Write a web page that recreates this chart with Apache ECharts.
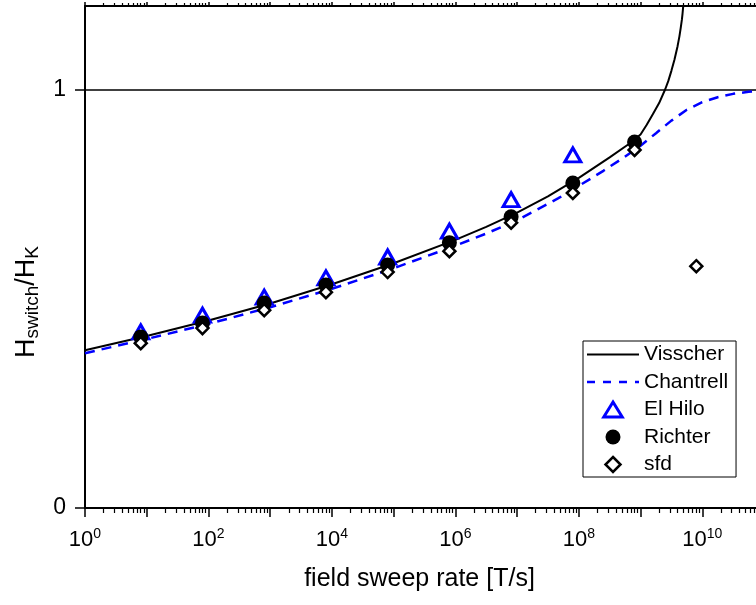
<!DOCTYPE html>
<html><head><meta charset="utf-8">
<script src="https://cdn.jsdelivr.net/npm/echarts@6/dist/echarts.min.js"></script>
<style>html,body{margin:0;padding:0;background:#fff;overflow:hidden;width:756px;height:605px}#c{width:764px;height:605px}</style>
</head><body><div id="c"></div>
<script>
// ---- data ----
const sweepRates = [8, 80, 800, 8e3, 8e4, 8e5, 8e6, 8e7, 8e8, 8e9];
const elHilo  = [0.421, 0.461, 0.504, 0.550, 0.600, 0.662, 0.737, 0.844];
const richter = [0.409, 0.442, 0.490, 0.533, 0.581, 0.634, 0.696, 0.777, 0.875];
const sfd     = [0.394, 0.430, 0.473, 0.516, 0.564, 0.614, 0.682, 0.753, 0.856, 0.578];

const visscherX = [1, 10, 100, 1e3, 1e4, 1e5, 1e6, 3.16e6, 1e7, 3.16e7, 1e8, 3.16e8, 6.3e8, 1e9, 1.26e9, 1.58e9, 2e9, 2.51e9, 2.82e9, 3.16e9, 3.55e9, 3.98e9, 4.27e9, 4.47e9, 4.68e9, 4.79e9, 4.9e9, 5.01e9, 5.13e9];
const visscherY = [0.377, 0.411, 0.448, 0.489, 0.535, 0.585, 0.641, 0.672, 0.706, 0.745, 0.789, 0.838, 0.869, 0.893, 0.916, 0.941, 0.968, 1.001, 1.021, 1.045, 1.072, 1.104, 1.128, 1.147, 1.168, 1.182, 1.198, 1.22, 1.25];
const chantrellX = [1, 10, 100, 1e3, 1e4, 1e5, 1e6, 3.16e6, 1e7, 4.6e7, 1e8, 2.5e8, 5e8, 1e9, 1.78e9, 3.16e9, 5.62e9, 1e10, 1.78e10, 3.16e10, 5.62e10, 1e11];
const chantrellY = [0.370, 0.404, 0.440, 0.480, 0.524, 0.573, 0.627, 0.656, 0.688, 0.740, 0.770, 0.806, 0.835, 0.866, 0.896, 0.926, 0.952, 0.970, 0.982, 0.990, 0.995, 0.998];

const xDecades = [1, 10, 100, 1e3, 1e4, 1e5, 1e6, 1e7, 1e8, 1e9, 1e10, 1e11];
const xLabelExps = [0, 2, 4, 6, 8, 10];
const minorMult = [2, 3, 4, 5, 6, 7, 8, 9];
const yTicks = [0, 1];

// ---- build ----
const F = '"Liberation Sans", Arial, sans-serif';
const minorTicks = [];
xDecades.slice(0, -1).forEach(d => minorMult.forEach(m => minorTicks.push(d * m)));
const zip = (xs, ys) => ys.map((y, i) => [xs[i], y]);

const baseX = {
  type: 'log', logBase: 10, min: 1, max: 1e11, gridIndex: 0,
  splitLine: { show: false }
};
const chart = echarts.init(document.getElementById('c'));
chart.setOption({
  animation: false,
  backgroundColor: '#fff',
  grid: { left: 85, top: 6, right: 0, bottom: 97, containLabel: false },
  xAxis: [
    Object.assign({}, baseX, {
      position: 'bottom',
      axisLine: { show: true, lineStyle: { color: '#000', width: 2 } },
      axisTick: { show: true, length: 9, lineStyle: { color: '#000', width: 1.5 }, customValues: xDecades },
      axisLabel: {
        show: true, margin: 19, color: '#000',
        customValues: xLabelExps.map(e => xDecades[e]),
        formatter: v => {
          const e = Math.round(Math.log10(v));
          return xLabelExps.indexOf(e) >= 0 ? '{b|10}{s|' + e + '}' : '';
        },
        rich: {
          b: { fontSize: 22, fontFamily: F, color: '#000' },
          s: { fontSize: 14, fontFamily: F, color: '#000', padding: [0, 0, 12, 0] }
        }
      },
      name: 'field sweep rate [T/s]', nameLocation: 'middle', nameGap: 59,
      nameTextStyle: { fontSize: 25, fontFamily: F, color: '#000', padding: [0, 10, 0, 0] }
    }),
    Object.assign({}, baseX, {
      position: 'bottom',
      axisLine: { show: false },
      axisTick: { show: true, length: 5, lineStyle: { color: '#000', width: 1.2 }, customValues: minorTicks },
      axisLabel: { show: false }
    }),
    Object.assign({}, baseX, {
      position: 'top',
      axisLine: { show: true, lineStyle: { color: '#000', width: 2 } },
      axisTick: { show: true, length: 4, lineStyle: { color: '#000', width: 1.5 }, customValues: xDecades },
      axisLabel: { show: false }
    }),
    Object.assign({}, baseX, {
      position: 'top',
      axisLine: { show: false },
      axisTick: { show: true, length: 3, lineStyle: { color: '#000', width: 1.2 }, customValues: minorTicks },
      axisLabel: { show: false }
    })
  ],
  yAxis: {
    type: 'value', min: 0, max: 1.2, interval: 1,
    axisLine: { show: true, lineStyle: { color: '#000', width: 2 } },
    axisTick: { show: true, length: 10, lineStyle: { color: '#000', width: 1.5 }, customValues: yTicks },
    axisLabel: {
      show: true, margin: 19, fontSize: 23, fontFamily: F, color: '#000',
      customValues: yTicks,
      formatter: v => (yTicks.indexOf(v) >= 0 ? String(v) : '')
    },
    splitLine: { show: true, lineStyle: { color: '#000', width: 1.5 } }
  },
  legend: {
    orient: 'vertical', left: 583, top: 341,
    padding: [3, 8, 2, 4], itemGap: 6.5, itemWidth: 52, itemHeight: 15,
    borderColor: '#000', borderWidth: 1, backgroundColor: '#fff',
    textStyle: { fontSize: 21, fontFamily: F, color: '#000' },
    data: [
      { name: 'Visscher', icon: 'path://M0,0h52v2.2h-52z', itemStyle: { color: '#000', borderWidth: 0 } },
      { name: 'Chantrell', icon: 'path://M0,0h8v2.5h-8zM16,0h8v2.5h-8zM32,0h8v2.5h-8zM48,0h4v2.5h-4z', itemStyle: { color: '#0000ff', borderWidth: 0 } },
      { name: 'El Hilo', icon: 'path://M8,0L16,13L0,13Z', itemStyle: { color: '#fff', borderColor: '#0000ff', borderWidth: 3 } },
      { name: 'Richter', icon: 'circle', itemStyle: { color: '#000', borderWidth: 0 } },
      { name: 'sfd', icon: 'path://M6,0L12,6L6,12L0,6Z', itemStyle: { color: '#fff', borderColor: '#000', borderWidth: 2.5 } }
    ]
  },
  graphic: [{
    type: 'text', x: 27, y: 302, rotation: Math.PI / 2,
    style: {
      text: '{a|H}{b|switch}{a|/H}{b|K}',
      align: 'center', verticalAlign: 'middle',
      rich: {
        a: { fontSize: 27, fontFamily: F, fill: '#000', color: '#000' },
        b: { fontSize: 19, fontFamily: F, fill: '#000', color: '#000', padding: [12, 0, 0, 0] }
      }
    }
  }],
  series: [
    {
      name: 'Visscher', type: 'line', data: zip(visscherX, visscherY),
      symbol: 'none', smooth: false, clip: true,
      lineStyle: { color: '#000', width: 2 }, itemStyle: { color: '#000' }, z: 3
    },
    {
      name: 'Chantrell', type: 'line', data: zip(chantrellX, chantrellY),
      symbol: 'none', smooth: false, clip: true,
      lineStyle: { color: '#0000ff', width: 2.5, type: [10, 7] }, itemStyle: { color: '#0000ff' }, z: 3
    },
    {
      name: 'El Hilo', type: 'scatter', data: zip(sweepRates, elHilo),
      symbol: 'triangle', symbolSize: [16, 14],
      itemStyle: { color: '#fff', borderColor: '#0000ff', borderWidth: 3, opacity: 1 }, z: 4
    },
    {
      name: 'Richter', type: 'scatter', data: zip(sweepRates, richter),
      symbol: 'circle', symbolSize: 15,
      itemStyle: { color: '#000', borderColor: '#000', borderWidth: 0, opacity: 1 }, z: 5
    },
    {
      name: 'sfd', type: 'scatter', data: zip(sweepRates, sfd),
      symbol: 'diamond', symbolSize: 12,
      itemStyle: { color: '#fff', borderColor: '#000', borderWidth: 2.5, opacity: 1 }, z: 6
    }
  ]
});
</script>
</body></html>
